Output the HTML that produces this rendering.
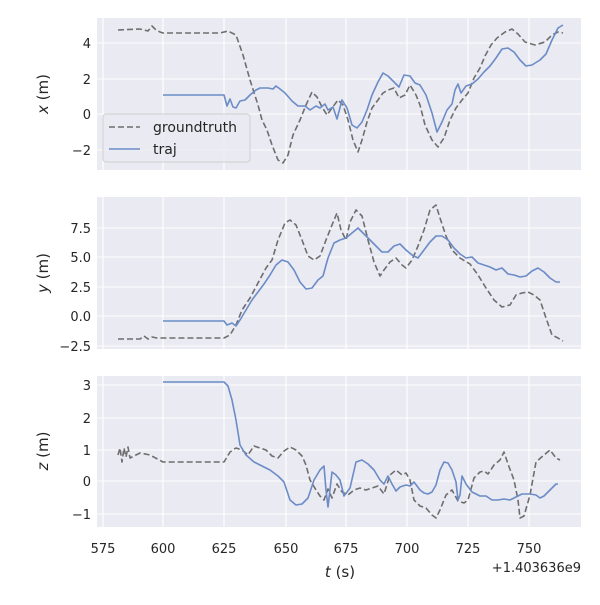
<!DOCTYPE html>
<html><head><style>body{margin:0;background:#fff}svg text{font-family:"DejaVu Sans","Liberation Sans",sans-serif;fill:#262626}</style></head><body>
<svg width="600" height="600" xmlns="http://www.w3.org/2000/svg">
<g id="bg" fill="#eaeaf2"><rect x="97" y="18" width="484" height="152"/><rect x="97" y="197" width="484" height="152"/><rect x="97" y="376" width="484" height="151"/></g>
<g stroke="#fff" stroke-width="1.1">
<path d="M103 18V170M163 18V170M224 18V170M286 18V170M346 18V170M407 18V170M468 18V170M529 18V170"/>
<path d="M103 197V349M163 197V349M224 197V349M286 197V349M346 197V349M407 197V349M468 197V349M529 197V349"/>
<path d="M103 376V527M163 376V527M224 376V527M286 376V527M346 376V527M407 376V527M468 376V527M529 376V527"/>
<path d="M97 43H581M97 79H581M97 114H581M97 150H581"/>
<path d="M97 228H581M97 257H581M97 287H581M97 316H581M97 346H581"/>
<path d="M97 385H581M97 418H581M97 450H581M97 481H581M97 514H581"/>
</g>
<g font-size="13" text-anchor="end">
<text x="91" y="48">4</text><text x="91" y="84">2</text><text x="91" y="119">0</text><text x="91" y="155">−2</text>
<text x="91" y="233">7.5</text><text x="91" y="262">5.0</text><text x="91" y="292">2.5</text><text x="91" y="321">0.0</text><text x="91" y="351">−2.5</text>
<text x="91" y="390">3</text><text x="91" y="423">2</text><text x="91" y="455">1</text><text x="91" y="486">0</text><text x="91" y="519">−1</text>
</g>
<g font-size="13" text-anchor="middle">
<text x="103" y="553">575</text><text x="163" y="553">600</text><text x="224" y="553">625</text><text x="286" y="553">650</text><text x="346" y="553">675</text><text x="407" y="553">700</text><text x="468" y="553">725</text><text x="529" y="553">750</text>
</g>
<text x="581" y="572" font-size="13" text-anchor="end">+1.403636e9</text>
<text x="340" y="577" font-size="15" text-anchor="middle"><tspan font-style="italic">t</tspan> (s)</text>
<text transform="translate(48 94) rotate(-90)" font-size="15" text-anchor="middle"><tspan font-style="italic">x</tspan> (m)</text>
<text transform="translate(48 273) rotate(-90)" font-size="15" text-anchor="middle"><tspan font-style="italic">y</tspan> (m)</text>
<text transform="translate(48 451) rotate(-90)" font-size="15" text-anchor="middle"><tspan font-style="italic">z</tspan> (m)</text>
<g fill="none" stroke-width="1.6" stroke-linejoin="round">
<polyline stroke="#6e6e6e" stroke-dasharray="6,3" points="118,30 140,29 148,31 152,26 156,30 160,32 163,33 220,33 228,31 236,35 243,55 250,80 258,105 262,120 267,130 272,145 278,160 283,163 288,155 293,135 300,120 306,105 312,92 317,97 322,107 327,115 332,108 338,100 343,105 348,120 353,140 358,152 362,140 367,122 372,108 378,100 383,93 388,90 394,88 399,98 405,95 410,85 416,95 420,105 425,125 432,140 438,147 444,138 450,120 456,108 462,100 468,93 474,78 480,68 485,56 491,45 497,38 505,32 512,29 518,34 525,42 535,45 545,42 552,35 558,32 563,33"/>
<polyline stroke="#6b8cc7" points="163,95 224,95 227,106 230,99 233,107 236,108 240,101 245,100 250,95 256,90 260,88 268,88 273,89 276,86 280,89 285,93 292,101 298,106 305,106 310,110 316,106 320,108 325,104 328,110 333,107 337,119 342,100 347,108 352,125 357,128 362,122 367,110 372,95 378,82 383,73 388,76 394,82 399,87 404,75 410,76 415,83 420,85 426,95 432,113 437,132 442,122 447,110 452,104 455,90 458,84 461,93 466,86 472,84 478,79 484,72 490,66 496,58 502,49 508,48 514,52 520,60 526,66 532,65 540,60 546,54 552,40 558,28 563,25"/>
<polyline stroke="#6e6e6e" stroke-dasharray="6,3" points="118,339 140,339 144,336 148,339 152,337 157,338 163,338 224,338 230,335 236,325 242,310 250,298 258,283 266,268 272,260 278,240 285,223 290,220 296,225 302,240 308,256 314,260 320,256 326,240 332,225 337,213 341,230 346,240 350,222 356,210 362,216 368,240 374,262 380,276 384,270 390,262 396,258 402,265 406,268 412,260 418,246 424,230 430,210 436,205 440,218 446,236 452,250 460,258 470,264 478,275 486,288 494,300 502,307 510,305 516,295 522,293 528,292 534,295 540,300 546,318 552,335 558,338 563,341"/>
<polyline stroke="#6b8cc7" points="163,321 224,321 227,325 232,323 236,326 240,320 246,310 252,300 258,292 264,284 270,275 276,265 282,260 288,262 294,270 300,282 306,289 312,288 318,280 323,276 328,258 334,243 340,240 346,238 352,233 358,228 364,234 370,240 376,246 382,252 388,252 394,246 400,244 406,250 412,255 418,258 424,250 430,242 436,236 442,236 448,240 454,248 460,254 466,258 472,257 478,263 484,265 490,267 496,270 502,268 508,274 514,275 520,277 526,276 532,271 538,268 544,272 550,278 556,282 560,282"/>
<polyline stroke="#6e6e6e" stroke-dasharray="6,3" points="118,455 120,448 122,462 124,448 126,457 128,447 130,458 140,453 150,455 163,462 224,462 230,452 236,448 242,450 248,455 254,446 260,448 266,450 272,456 278,458 284,451 290,447 296,450 302,456 306,465 310,480 316,490 320,496 324,500 328,489 332,498 337,484 342,492 348,495 354,490 360,488 366,490 372,488 378,486 384,494 390,475 396,470 402,475 406,473 410,480 414,500 420,506 426,508 432,515 436,518 440,510 446,495 452,490 458,501 464,503 468,500 474,478 480,472 484,471 488,474 494,465 500,460 504,452 508,464 514,480 518,500 520,518 524,516 530,495 536,462 544,455 550,450 556,458 560,460"/>
<polyline stroke="#6b8cc7" points="163,382 224,382 228,386 232,400 236,420 240,445 246,455 254,462 262,466 270,470 278,476 284,482 290,500 296,505 302,504 308,498 314,480 320,470 324,466 326,490 328,507 332,472 336,475 340,480 344,496 350,488 356,462 362,460 368,464 374,470 380,480 384,484 388,476 392,484 396,491 400,487 406,485 410,486 414,482 420,490 424,493 428,494 432,492 436,485 440,470 444,462 448,463 452,470 456,482 458,500 460,495 462,476 466,484 472,492 476,494 480,496 486,496 492,500 498,500 504,499 510,500 516,497 522,494 530,494 536,495 540,498 544,496 550,490 556,484 558,484"/>
</g>
<rect x="103" y="114" width="147" height="48" rx="3" fill="#eaeaf2" fill-opacity="0.85" stroke="#d0d0d0"/>
<line x1="109" y1="127" x2="140" y2="127" stroke="#6e6e6e" stroke-width="1.6" stroke-dasharray="6,3"/>
<line x1="109" y1="149" x2="140" y2="149" stroke="#6b8cc7" stroke-width="1.6"/>
<text x="153" y="132" font-size="14">groundtruth</text>
<text x="153" y="154" font-size="14">traj</text>
</svg>
</body></html>
